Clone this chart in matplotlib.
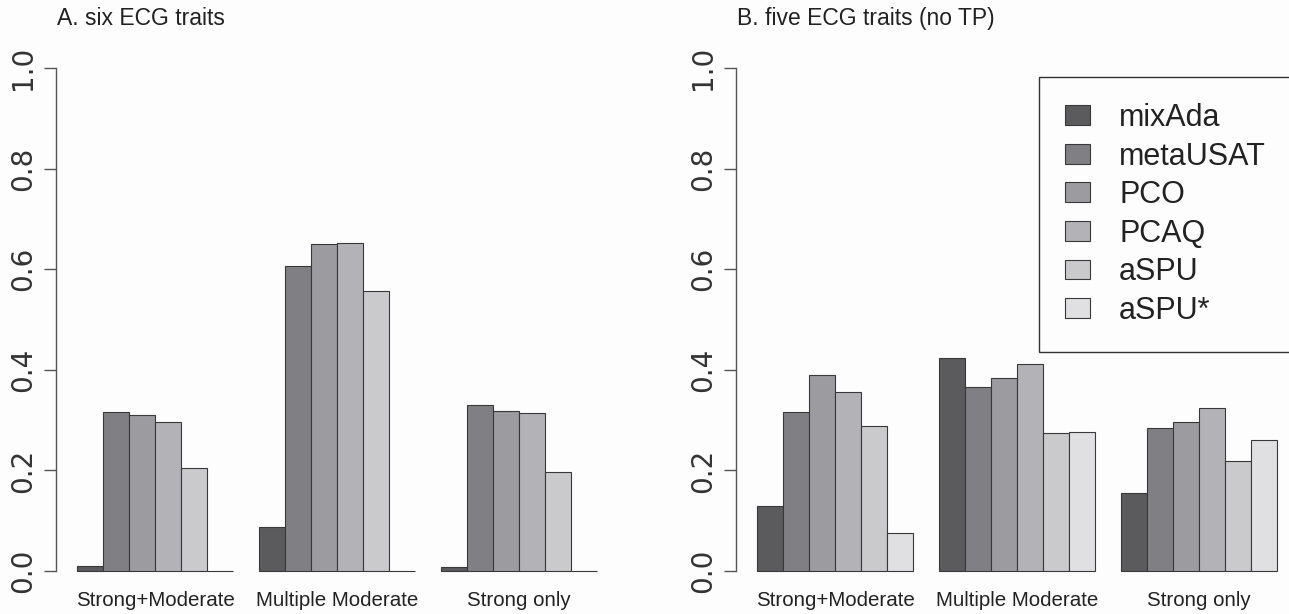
import numpy as np
import matplotlib
matplotlib.use("Agg")
from matplotlib import pyplot as plt

# data
groups = ["Strong+Moderate", "Multiple Moderate", "Strong only"]
methods = ["mixAda", "metaUSAT", "PCO", "PCAQ", "aSPU", "aSPU*"]

# A. six ECG traits (aSPU* is zero here)
six_mixAda = [0.009, 0.088, 0.007]
six_metaUSAT = [0.317, 0.607, 0.330]
six_PCO = [0.311, 0.650, 0.318]
six_PCAQ = [0.296, 0.653, 0.315]
six_aSPU = [0.205, 0.557, 0.197]
six_aSPUstar = [0.0, 0.0, 0.0]

# B. five ECG traits (no TP)
five_mixAda = [0.130, 0.424, 0.156]
five_metaUSAT = [0.316, 0.365, 0.284]
five_PCO = [0.390, 0.383, 0.296]
five_PCAQ = [0.355, 0.411, 0.325]
five_aSPU = [0.289, 0.274, 0.219]
five_aSPUstar = [0.075, 0.276, 0.261]

titles = ["A. six ECG traits", "B. five ECG traits (no TP)"]
yticks = [0.0, 0.2, 0.4, 0.6, 0.8, 1.0]

colors = ["#5b5b5e", "#808084", "#9c9ca0", "#b3b3b7", "#cacacd", "#e0e0e2"]

panels = [
    [six_mixAda, six_metaUSAT, six_PCO, six_PCAQ, six_aSPU, six_aSPUstar],
    [five_mixAda, five_metaUSAT, five_PCO, five_PCAQ, five_aSPU, five_aSPUstar],
]

W, H = 1289, 614
fig = plt.figure(figsize=(W / 100, H / 100), dpi=100)
fig.patch.set_facecolor("#fdfdfd")

# axes placed in pixel terms like the R layout (right one runs off the edge)
left_px = [56.2, 736.2]
ax_w = 617.8 - 56.2
bot, top = 591.1, 47.9

axes = []
for p in range(2):
    ax = fig.add_axes([left_px[p] / W, 1 - bot / H, ax_w / W, (bot - top) / H])
    ax.set_facecolor("none")
    data = panels[p]
    for j, vals in enumerate(data):
        xs = 1 + 7 * np.arange(len(groups)) + j
        ax.bar(xs, vals, width=1, align="edge", color=colors[j],
               edgecolor="#383838", linewidth=0.8, label=methods[j])
    ax.set_xlim(0.2, 21.8)
    ax.set_ylim(-0.04, 1.04)
    for s in ["top", "right", "bottom"]:
        ax.spines[s].set_visible(False)
    ax.spines["left"].set_bounds(0, 1)
    ax.spines["left"].set_color("#555555")
    ax.spines["left"].set_linewidth(1.0)
    ax.set_yticks(yticks)
    ax.set_yticklabels(["%.1f" % t for t in yticks], rotation=90, va="center",
                       fontsize=20, color="#333333", family="DejaVu Sans")
    ax.tick_params(axis="y", length=9, width=1.0, color="#555555", pad=5)
    centers = 1 + 7 * np.arange(len(groups)) + 3
    ax.set_xticks(centers)
    ax.set_xticklabels(groups, fontsize=14.8, color="#222222",
                       family="Liberation Sans")
    ax.tick_params(axis="x", length=0, pad=0)
    axes.append(ax)
    fig.text(left_px[p] / W + 0.0007, 1 - 25 / H, titles[p], fontsize=16.5,
             color="#222222", family="Liberation Sans", ha="left",
             va="baseline")

leg = axes[1].legend(loc="upper left", bbox_to_anchor=(1039 / W, 1 - 77 / H),
                     bbox_transform=fig.transFigure,
                     prop={"family": "Liberation Sans", "size": 22},
                     frameon=True, fancybox=False, borderpad=0.85,
                     labelspacing=0.28, handlelength=0.82, handleheight=0.62,
                     handletextpad=0.95, borderaxespad=0)
leg.get_frame().set_edgecolor("#333333")
leg.get_frame().set_linewidth(1.0)
leg.get_frame().set_facecolor("#fdfdfd")
leg.get_frame().set_alpha(1)
for t in leg.get_texts():
    t.set_color("#222222")

fig.savefig("out.png", dpi=100, facecolor=fig.get_facecolor())
